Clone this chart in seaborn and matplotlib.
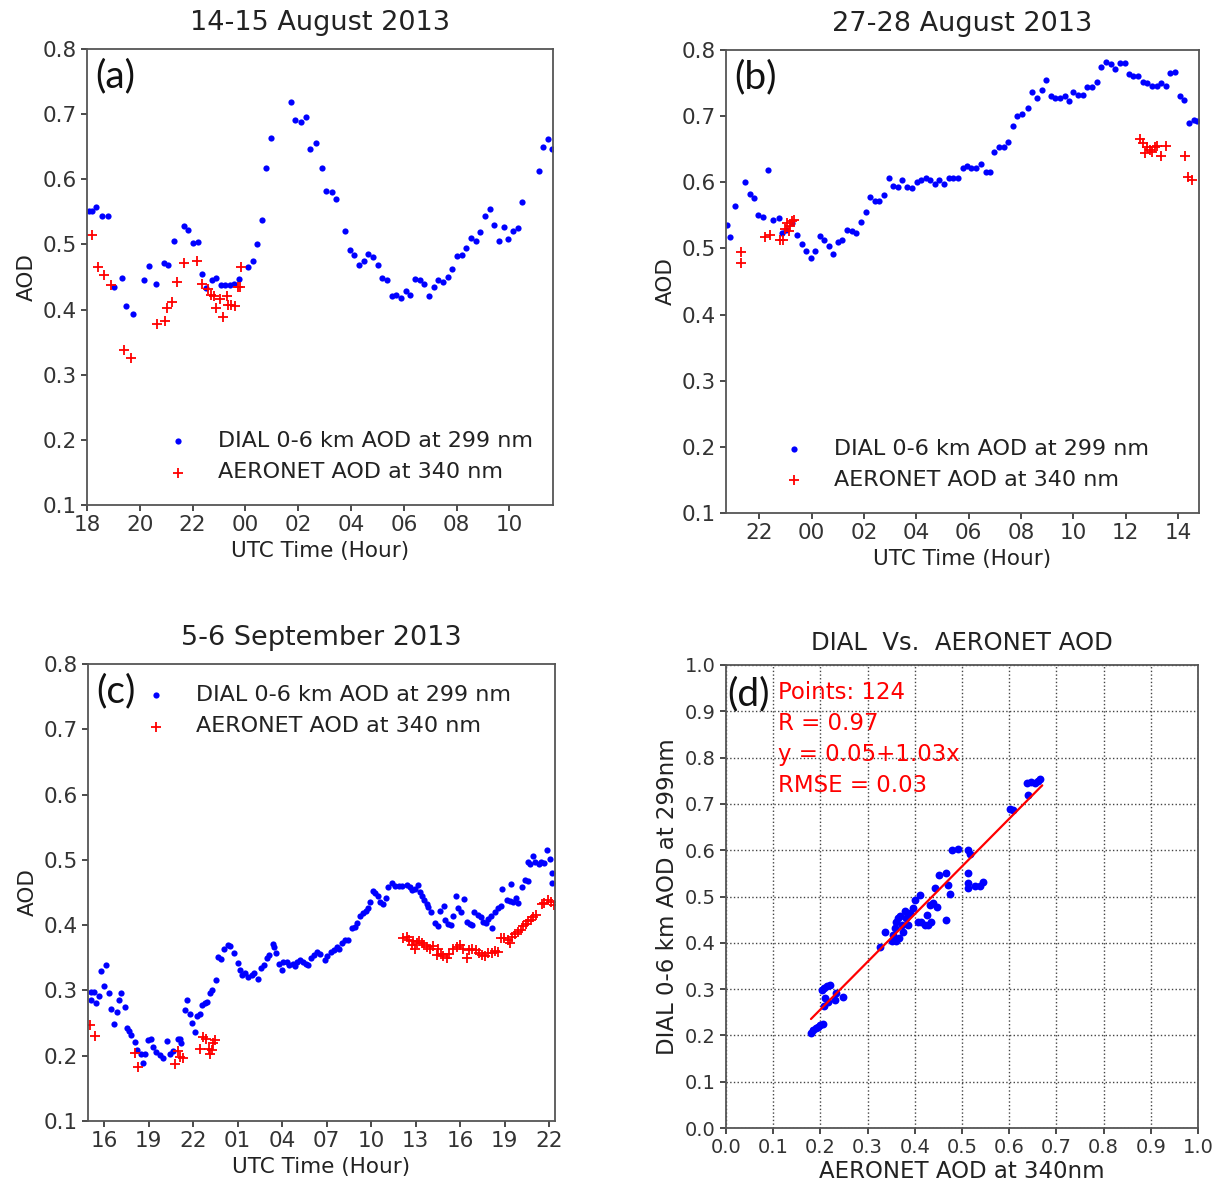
import numpy as np
import pandas as pd
import matplotlib
matplotlib.use("Agg")
import matplotlib.pyplot as plt
import seaborn as sns
from matplotlib.ticker import FixedLocator, FuncFormatter

# ---------------- data ----------------
# hours are counted continuously from 00 UTC of the first day (24 = 00 next day)

# (a) 14-15 August 2013
a_dial_hour = [18.08, 18.18, 18.33, 18.58, 18.78, 19.02, 19.31, 19.49, 19.74, 20.16, 20.35, 20.61,
               20.90, 21.08, 21.30, 21.67, 21.84, 22.02, 22.20, 22.37, 22.52, 22.72, 22.90, 23.08,
               23.24, 23.40, 23.56, 23.76, 24.09, 24.28, 24.44, 24.62, 24.79, 24.97, 25.71, 25.89,
               26.09, 26.31, 26.46, 26.67, 26.89, 27.07, 27.27, 27.42, 27.79, 27.95, 28.13, 28.30,
               28.48, 28.66, 28.83, 29.02, 29.19, 29.36, 29.54, 29.72, 29.89, 30.07, 30.25, 30.42,
               30.60, 30.78, 30.95, 31.13, 31.31, 31.48, 31.66, 31.84, 32.02, 32.19, 32.37, 32.55,
               32.72, 32.90, 33.08, 33.25, 33.43, 33.61, 33.78, 33.96, 34.14, 34.31, 34.49, 35.12,
               35.27, 35.47, 35.63]
a_dial_aod = [0.552, 0.552, 0.558, 0.543, 0.543, 0.435, 0.449, 0.405, 0.393, 0.445, 0.467, 0.440,
              0.472, 0.469, 0.505, 0.529, 0.522, 0.502, 0.504, 0.454, 0.433, 0.446, 0.448, 0.438,
              0.437, 0.438, 0.439, 0.447, 0.466, 0.474, 0.500, 0.538, 0.618, 0.663, 0.718, 0.691,
              0.688, 0.696, 0.647, 0.655, 0.618, 0.582, 0.581, 0.570, 0.521, 0.491, 0.484, 0.469,
              0.475, 0.485, 0.481, 0.469, 0.448, 0.446, 0.421, 0.423, 0.417, 0.429, 0.422, 0.447,
              0.446, 0.440, 0.421, 0.435, 0.446, 0.442, 0.450, 0.462, 0.482, 0.484, 0.495, 0.510,
              0.506, 0.519, 0.544, 0.555, 0.530, 0.506, 0.526, 0.509, 0.521, 0.525, 0.565, 0.612,
              0.650, 0.662, 0.646]
a_aeronet_hour = [18.18, 18.43, 18.66, 18.92, 19.41, 19.68, 20.66, 20.94, 21.04, 21.21, 21.42, 21.67,
                  22.17, 22.37, 22.57, 22.70, 22.81, 22.90, 23.03, 23.15, 23.32, 23.35, 23.47, 23.61,
                  23.71, 23.78, 23.83]
a_aeronet_aod = [0.515, 0.466, 0.453, 0.437, 0.338, 0.325, 0.378, 0.383, 0.402, 0.412, 0.442, 0.471,
                 0.475, 0.440, 0.431, 0.423, 0.421, 0.403, 0.416, 0.389, 0.421, 0.407, 0.407, 0.406,
                 0.435, 0.435, 0.465]

# (b) 27-28 August 2013
b_dial_hour = [20.75, 20.88, 21.06, 21.44, 21.64, 21.80, 21.96, 22.15, 22.33, 22.54, 22.74, 22.88,
               23.02, 23.24, 23.43, 23.62, 23.78, 23.97, 24.14, 24.32, 24.47, 24.66, 24.83, 24.99,
               25.17, 25.34, 25.53, 25.69, 25.87, 26.08, 26.23, 26.41, 26.59, 26.76, 26.96, 27.12,
               27.30, 27.46, 27.66, 27.83, 28.01, 28.18, 28.37, 28.52, 28.70, 28.88, 29.06, 29.24,
               29.41, 29.58, 29.77, 29.92, 30.10, 30.28, 30.47, 30.65, 30.82, 30.98, 31.16, 31.35,
               31.52, 31.68, 31.86, 32.04, 32.25, 32.43, 32.60, 32.79, 32.96, 33.13, 33.31, 33.49,
               33.67, 33.83, 34.00, 34.19, 34.36, 34.54, 34.71, 34.89, 35.07, 35.25, 35.43, 35.59,
               35.78, 35.96, 36.14, 36.29, 36.47, 36.65, 36.83, 37.01, 37.18, 37.36, 37.54, 37.69,
               37.89, 38.08, 38.24, 38.41, 38.59, 38.74]
b_dial_aod = [0.535, 0.517, 0.564, 0.600, 0.583, 0.576, 0.550, 0.548, 0.619, 0.543, 0.546, 0.524,
              0.528, 0.539, 0.520, 0.507, 0.496, 0.486, 0.496, 0.519, 0.513, 0.503, 0.491, 0.509,
              0.513, 0.528, 0.527, 0.524, 0.540, 0.555, 0.578, 0.571, 0.571, 0.581, 0.606, 0.595,
              0.593, 0.604, 0.593, 0.592, 0.601, 0.603, 0.607, 0.604, 0.597, 0.603, 0.598, 0.606,
              0.606, 0.607, 0.622, 0.624, 0.621, 0.621, 0.628, 0.615, 0.615, 0.646, 0.653, 0.653,
              0.661, 0.685, 0.700, 0.703, 0.712, 0.737, 0.728, 0.740, 0.754, 0.730, 0.727, 0.728,
              0.730, 0.723, 0.737, 0.732, 0.732, 0.744, 0.744, 0.751, 0.775, 0.782, 0.779, 0.772,
              0.781, 0.781, 0.763, 0.761, 0.760, 0.751, 0.750, 0.746, 0.746, 0.750, 0.746, 0.765,
              0.767, 0.730, 0.725, 0.689, 0.694, 0.693]
b_aeronet_hour = [21.31, 21.31, 22.23, 22.43, 22.79, 22.92, 22.99, 23.07, 23.12, 23.17, 23.25, 23.34,
                  36.55, 36.65, 36.74, 36.83, 36.93, 37.02, 37.12, 37.21, 37.34, 37.54, 38.27, 38.39,
                  38.55]
b_aeronet_aod = [0.494, 0.478, 0.517, 0.521, 0.513, 0.513, 0.530, 0.539, 0.526, 0.534, 0.541, 0.543,
                 0.665, 0.659, 0.644, 0.654, 0.649, 0.646, 0.653, 0.655, 0.639, 0.655, 0.640, 0.608,
                 0.603]

# (c) 5-6 September 2013
c_dial_hour = [15.11, 15.11, 15.33, 15.49, 15.64, 15.78, 16.00, 16.16, 16.32, 16.50, 16.67, 16.88,
               17.01, 17.17, 17.40, 17.55, 17.71, 17.85, 18.07, 18.25, 18.47, 18.63, 18.74, 18.93,
               19.15, 19.30, 19.53, 19.76, 19.98, 20.21, 20.43, 20.65, 20.95, 21.10, 21.21, 21.44,
               21.60, 21.78, 21.93, 22.11, 22.23, 22.45, 22.61, 22.79, 22.97, 23.15, 23.30, 23.53,
               23.71, 23.89, 24.09, 24.32, 24.47, 24.77, 25.00, 25.15, 25.30, 25.49, 25.71, 25.94,
               26.09, 26.38, 26.55, 26.77, 26.95, 27.13, 27.36, 27.44, 27.58, 27.80, 27.96, 28.07,
               28.30, 28.47, 28.70, 28.86, 29.01, 29.20, 29.38, 29.60, 29.76, 29.92, 30.14, 30.36,
               30.54, 30.88, 31.04, 31.27, 31.49, 31.67, 31.85, 32.01, 32.23, 32.45, 32.68, 32.91,
               33.06, 33.24, 33.47, 33.65, 33.80, 33.92, 34.10, 34.25, 34.48, 34.59, 34.81, 34.98,
               35.15, 35.38, 35.60, 35.87, 36.10, 36.39, 36.61, 36.77, 36.95, 37.13, 37.29, 37.44,
               37.58, 37.74, 37.85, 38.03, 38.30, 38.48, 38.64, 38.87, 38.97, 39.20, 39.38, 39.53,
               39.69, 39.87, 40.05, 40.28, 40.44, 40.66, 40.82, 40.95, 41.18, 41.40, 41.56, 41.72,
               41.89, 42.07, 42.16, 42.34, 42.57, 42.75, 42.84, 43.13, 43.36, 43.42, 43.58, 43.74,
               43.88, 44.14, 44.37, 44.55, 44.55, 44.71, 44.93, 45.05, 45.27, 45.45, 45.61, 45.84,
               46.06, 46.17, 46.21]
c_dial_aod = [0.298, 0.285, 0.298, 0.281, 0.291, 0.329, 0.307, 0.339, 0.296, 0.272, 0.248, 0.267,
              0.286, 0.296, 0.274, 0.242, 0.238, 0.231, 0.221, 0.208, 0.203, 0.189, 0.202, 0.224,
              0.225, 0.213, 0.206, 0.201, 0.197, 0.223, 0.203, 0.207, 0.225, 0.226, 0.220, 0.270,
              0.285, 0.264, 0.250, 0.236, 0.261, 0.264, 0.277, 0.280, 0.282, 0.296, 0.300, 0.316,
              0.351, 0.348, 0.363, 0.369, 0.368, 0.357, 0.342, 0.331, 0.323, 0.326, 0.321, 0.323,
              0.327, 0.318, 0.334, 0.339, 0.349, 0.354, 0.371, 0.367, 0.357, 0.341, 0.332, 0.344,
              0.344, 0.339, 0.341, 0.337, 0.344, 0.347, 0.344, 0.341, 0.339, 0.349, 0.354, 0.359,
              0.356, 0.347, 0.353, 0.359, 0.362, 0.367, 0.364, 0.373, 0.378, 0.378, 0.395, 0.397,
              0.403, 0.414, 0.418, 0.421, 0.426, 0.436, 0.453, 0.449, 0.444, 0.436, 0.433, 0.441,
              0.458, 0.465, 0.460, 0.460, 0.460, 0.462, 0.459, 0.454, 0.456, 0.462, 0.451, 0.444,
              0.438, 0.433, 0.428, 0.420, 0.403, 0.398, 0.422, 0.429, 0.408, 0.402, 0.400, 0.414,
              0.445, 0.427, 0.420, 0.440, 0.405, 0.402, 0.400, 0.420, 0.415, 0.412, 0.405, 0.403,
              0.409, 0.414, 0.395, 0.420, 0.426, 0.429, 0.455, 0.438, 0.437, 0.463, 0.436, 0.441,
              0.434, 0.458, 0.469, 0.467, 0.496, 0.494, 0.506, 0.497, 0.494, 0.497, 0.495, 0.515,
              0.501, 0.480, 0.464]
c_aeronet_hour = [15.04, 15.37, 18.07, 18.29, 20.81, 20.99, 21.15, 21.33, 22.45, 22.68, 22.84, 23.06,
                  23.13, 23.24, 23.35, 23.46,
                  36.16, 36.39, 36.55, 36.73, 36.84, 36.95, 37.07, 37.22, 37.40, 37.58, 37.74, 37.96,
                  38.19, 38.41, 38.52, 38.70, 38.86, 39.09, 39.24, 39.53, 39.76, 39.98, 40.21, 40.44,
                  40.59, 40.81, 41.04, 41.27, 41.49, 41.67, 41.89, 42.12, 42.35, 42.53, 42.75, 42.97,
                  43.20, 43.36, 43.51, 43.69, 43.88, 44.10, 44.25, 44.42, 44.59, 44.77, 44.93, 45.09,
                  45.49, 45.67, 45.90, 46.12, 46.28]
c_aeronet_aod = [0.247, 0.230, 0.204, 0.182, 0.187, 0.207, 0.198, 0.197, 0.211, 0.229, 0.226, 0.211,
                 0.203, 0.208, 0.219, 0.224,
                 0.380, 0.382, 0.377, 0.369, 0.375, 0.364, 0.372, 0.375, 0.372, 0.369, 0.367, 0.364,
                 0.368, 0.354, 0.364, 0.356, 0.352, 0.349, 0.356, 0.364, 0.367, 0.369, 0.364, 0.349,
                 0.362, 0.363, 0.362, 0.358, 0.354, 0.353, 0.358, 0.357, 0.361, 0.359, 0.381, 0.380,
                 0.377, 0.373, 0.382, 0.386, 0.390, 0.392, 0.398, 0.402, 0.407, 0.408, 0.412, 0.416,
                 0.432, 0.434, 0.438, 0.436, 0.431]

# (d) matched pairs: AERONET 340 nm vs DIAL 299 nm
d_aeronet = [0.180, 0.185, 0.191, 0.195, 0.200, 0.206, 0.203, 0.207, 0.213, 0.220, 0.210, 0.217,
             0.207, 0.231, 0.234, 0.247, 0.326, 0.337, 0.351, 0.354, 0.358, 0.361, 0.365, 0.368,
             0.372, 0.375, 0.361, 0.367, 0.379, 0.382, 0.386, 0.390, 0.397, 0.400, 0.411, 0.407,
             0.414, 0.421, 0.428, 0.435, 0.425, 0.432, 0.439, 0.442, 0.446, 0.452, 0.467, 0.466,
             0.471, 0.474, 0.478, 0.492, 0.513, 0.518, 0.513, 0.513, 0.513, 0.527, 0.538, 0.545,
             0.601, 0.608, 0.640, 0.637, 0.647, 0.654, 0.661, 0.666]
d_dial = [0.205, 0.212, 0.216, 0.219, 0.223, 0.224, 0.299, 0.302, 0.306, 0.308, 0.281, 0.273,
          0.263, 0.277, 0.291, 0.284, 0.390, 0.423, 0.403, 0.417, 0.432, 0.446, 0.453, 0.457,
          0.439, 0.424, 0.403, 0.410, 0.468, 0.453, 0.439, 0.464, 0.475, 0.493, 0.504, 0.446,
          0.446, 0.439, 0.439, 0.446, 0.460, 0.482, 0.486, 0.518, 0.478, 0.547, 0.550, 0.450,
          0.525, 0.505, 0.601, 0.602, 0.601, 0.591, 0.550, 0.529, 0.518, 0.522, 0.522, 0.532,
          0.689, 0.686, 0.719, 0.745, 0.747, 0.745, 0.750, 0.754]
fit_intercept = 0.05
fit_slope = 1.03
fit_x_range = [0.18, 0.67]
stats_lines = ["Points: 124", "R = 0.97", "y = 0.05+1.03x", "RMSE = 0.03"]

titles = ["14-15 August 2013", "27-28 August 2013", "5-6 September 2013", "DIAL  Vs.  AERONET AOD"]
dial_label = "DIAL 0-6 km AOD at 299 nm"
aeronet_label = "AERONET AOD at 340 nm"

# ---------------- style ----------------
sns.set_theme(style="ticks", rc={
    "axes.edgecolor": "#555555",
    "axes.linewidth": 1.3,
    "xtick.color": "#333333",
    "ytick.color": "#333333",
    "xtick.major.size": 4,
    "ytick.major.size": 4,
    "text.color": "#222222",
    "axes.labelcolor": "#222222",
})
plt.rcParams["font.family"] = ["DejaVu Sans"]

W, H = 1221, 1183
fig = plt.figure(figsize=(W / 100, H / 100), dpi=100)


def box(left, top, right, bottom):
    return [left / W, 1 - bottom / H, (right - left) / W, (bottom - top) / H]


ax_a = fig.add_axes(box(87, 49, 553, 505))
ax_b = fig.add_axes(box(726, 50, 1199, 513))
ax_c = fig.add_axes(box(88, 664, 555, 1121))
ax_d = fig.add_axes(box(726, 665, 1198, 1128))

hour_fmt = FuncFormatter(lambda v, pos: f"{int(round(v)) % 24:02d}")
aod_ticks = [0.1, 0.2, 0.3, 0.4, 0.5, 0.6, 0.7, 0.8]


def time_panel(ax, dh, da, ah, aa, xlim, xticks, title, tag, leg_loc, leg_anchor):
    dial = pd.DataFrame({"hour": dh, "aod": da})
    aer = pd.DataFrame({"hour": ah, "aod": aa})
    sns.scatterplot(data=dial, x="hour", y="aod", ax=ax, color="blue", marker="o",
                    s=20, linewidth=0, label=dial_label)
    sns.scatterplot(data=aer, x="hour", y="aod", ax=ax, color="red", marker="+",
                    s=45, linewidth=1.3, label=aeronet_label)
    ax.set_xlim(*xlim)
    ax.set_ylim(0.1, 0.8)
    ax.xaxis.set_major_locator(FixedLocator(xticks))
    ax.xaxis.set_major_formatter(hour_fmt)
    ax.yaxis.set_major_locator(FixedLocator(aod_ticks))
    ax.yaxis.set_major_formatter(FuncFormatter(lambda v, pos: f"{v:.1f}"))
    ax.tick_params(labelsize=15.5)
    ax.set_xlabel("UTC Time (Hour)", fontsize=15.5)
    ax.set_ylabel("AOD", fontsize=15.5)
    ax.set_title(title, fontsize=19.5, pad=14)
    ax.text(0.017, 0.98, tag, transform=ax.transAxes, ha="left", va="top",
            fontsize=28, family=["Lato", "DejaVu Sans"], color="#111111")
    ax.legend(loc=leg_loc, bbox_to_anchor=leg_anchor, frameon=False, fontsize=16,
              scatterpoints=1, handletextpad=0.8, labelspacing=0.5, borderaxespad=0)


time_panel(ax_a, a_dial_hour, a_dial_aod, a_aeronet_hour, a_aeronet_aod,
           (18.0, 35.65), list(range(18, 35, 2)), titles[0], "(a)",
           "lower left", (0.128, 0.03))
time_panel(ax_b, b_dial_hour, b_dial_aod, b_aeronet_hour, b_aeronet_aod,
           (20.73, 38.80), list(range(22, 39, 2)), titles[1], "(b)",
           "lower left", (0.078, 0.031))
time_panel(ax_c, c_dial_hour, c_dial_aod, c_aeronet_hour, c_aeronet_aod,
           (14.92, 46.38), list(range(16, 47, 3)), titles[2], "(c)",
           "upper left", (0.078, 0.973))

# ---------------- (d) scatter comparison ----------------
pairs = pd.DataFrame({"aeronet": d_aeronet, "dial": d_dial})
sns.scatterplot(data=pairs, x="aeronet", y="dial", ax=ax_d, color="blue", marker="o",
                s=32, linewidth=0, zorder=3)
fit = pd.DataFrame({"x": fit_x_range})
fit["y"] = fit_intercept + fit_slope * fit["x"]
sns.lineplot(data=fit, x="x", y="y", ax=ax_d, color="red", linewidth=1.6, zorder=4)
ax_d.set_xlim(0, 1)
ax_d.set_ylim(0, 1)
grid_ticks = [round(0.1 * i, 1) for i in range(11)]
ax_d.xaxis.set_major_locator(FixedLocator(grid_ticks))
ax_d.yaxis.set_major_locator(FixedLocator(grid_ticks))
ax_d.xaxis.set_major_formatter(FuncFormatter(lambda v, pos: f"{v:.1f}"))
ax_d.yaxis.set_major_formatter(FuncFormatter(lambda v, pos: f"{v:.1f}"))
ax_d.grid(True, linestyle=":", color="#444444", linewidth=1.0)
ax_d.set_axisbelow(True)
ax_d.tick_params(labelsize=14)
ax_d.set_xlabel("AERONET AOD at 340nm", fontsize=16.5, labelpad=2)
ax_d.set_ylabel("DIAL 0-6 km AOD at 299nm", fontsize=16.5)
ax_d.set_title(titles[3], fontsize=17.5, pad=11)
ax_d.text(0.002, 0.975, "(d)", transform=ax_d.transAxes, ha="left", va="top",
          fontsize=28, family=["Lato", "DejaVu Sans"], color="#111111")
for i, line in enumerate(stats_lines):
    ax_d.text(0.11, 0.94 - 0.067 * i, line, ha="left", va="center",
              fontsize=16.5, color="red")

fig.savefig("out.png", dpi=100)
